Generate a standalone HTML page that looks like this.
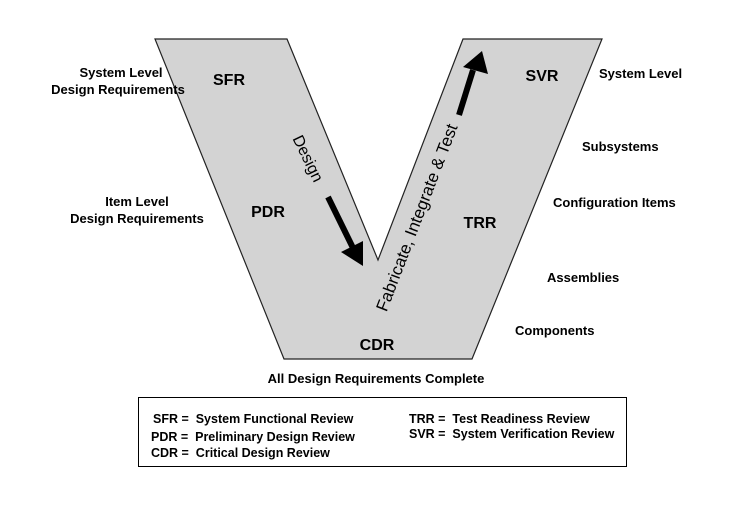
<!DOCTYPE html>
<html><head><meta charset="utf-8"><style>
body{margin:0;background:#fff;}
svg text{font-family:"Liberation Sans",Arial,sans-serif;font-weight:bold;fill:#000;white-space:pre;}
</style></head><body>
<svg width="750" height="500" viewBox="0 0 750 500" xmlns="http://www.w3.org/2000/svg">
<rect width="750" height="500" fill="#fff"/>
<polygon points="155,39 287,39 378,260 463,39 602,39 472,359 284,359" fill="#d3d3d3" stroke="#222" stroke-width="1.2"/>
<line x1="328" y1="197" x2="354" y2="250" stroke="#000" stroke-width="6"/>
<polygon points="363,266 341,252 363,241" fill="#000"/>
<line x1="459" y1="115" x2="473" y2="70" stroke="#000" stroke-width="6"/>
<polygon points="482,51 463,67 488,74" fill="#000"/>
<text x="229" y="85" font-size="16" text-anchor="middle">SFR</text>
<text x="268" y="217" font-size="16" text-anchor="middle">PDR</text>
<text x="377" y="350" font-size="16" text-anchor="middle">CDR</text>
<text x="480" y="228" font-size="16" text-anchor="middle">TRR</text>
<text x="542" y="81" font-size="16" text-anchor="middle">SVR</text>
<text transform="translate(307,159) rotate(64)" font-size="16" text-anchor="middle" dominant-baseline="middle" style="font-weight:normal">Design</text>
<text transform="translate(418,218) rotate(-69)" font-size="17" text-anchor="middle" dominant-baseline="middle" style="font-weight:normal">Fabricate, Integrate &amp; Test</text>
<g font-size="13">
<text x="121" y="77" text-anchor="middle">System Level</text>
<text x="118" y="94" text-anchor="middle">Design Requirements</text>
<text x="137" y="206" text-anchor="middle">Item Level</text>
<text x="137" y="223" text-anchor="middle">Design Requirements</text>
<text x="599" y="78">System Level</text>
<text x="582" y="151">Subsystems</text>
<text x="553" y="207">Configuration Items</text>
<text x="547" y="282">Assemblies</text>
<text x="515" y="335">Components</text>
<text x="376" y="383" text-anchor="middle">All Design Requirements Complete</text>
</g>
<rect x="138.5" y="397.5" width="488" height="69" fill="none" stroke="#000" stroke-width="1"/>
<g font-size="12.5">
<text x="153" y="423">SFR =  System Functional Review</text>
<text x="151" y="441">PDR =  Preliminary Design Review</text>
<text x="151" y="457">CDR =  Critical Design Review</text>
<text x="409" y="423">TRR =  Test Readiness Review</text>
<text x="409" y="438">SVR =  System Verification Review</text>
</g>
</svg>
</body></html>
